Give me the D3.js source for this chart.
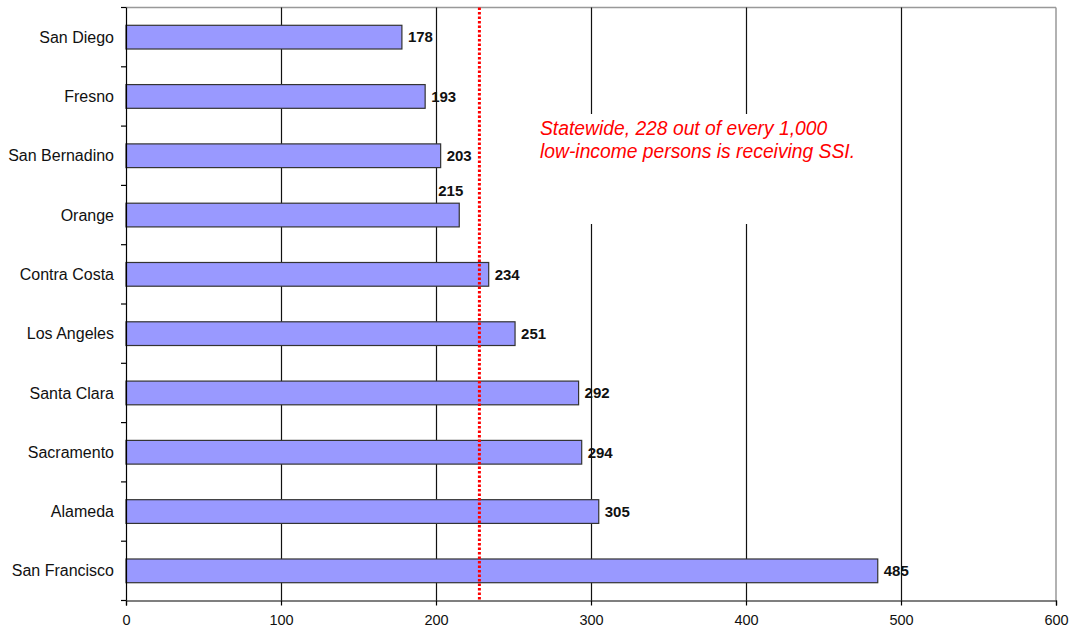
<!DOCTYPE html>
<html><head><meta charset="utf-8">
<script src="https://cdn.jsdelivr.net/npm/d3@7"></script>
<style>
html,body{margin:0;padding:0;background:#fff;}
svg{display:block;}
text{font-family:"Liberation Sans",Arial,sans-serif;}
</style></head>
<body>
<svg id="chart" width="1075" height="632"></svg>
<script>
const categories = ["San Diego","Fresno","San Bernadino","Orange","Contra Costa","Los Angeles","Santa Clara","Sacramento","Alameda","San Francisco"];
const values = [178,193,203,215,234,251,292,294,305,485];
const xTicks = [0,100,200,300,400,500,600];
const statewide = 228;
const noteLines = ["Statewide, 228 out of every 1,000","low-income persons is receiving SSI."];

const svg = d3.select("#chart");
const L = 126, R = 1056, T = 7.5, B = 600.5;

const x = d3.scaleLinear().domain([0,600]).range([L,R]);
const y = d3.scaleBand().domain(categories).range([T,B]).paddingInner(0.6).paddingOuter(0.3);
const yb = d3.scaleBand().domain(categories).range([T,B]).padding(0);

// plot border (top & right gray)
svg.append("line").attr("x1",L).attr("x2",R).attr("y1",T).attr("y2",T).attr("stroke","#999").attr("stroke-width",1.5);
svg.append("line").attr("x1",R).attr("x2",R).attr("y1",T).attr("y2",B).attr("stroke","#999").attr("stroke-width",1.5);

// gridlines
svg.append("g").selectAll("line").data(xTicks.filter(d=>d>0&&d<600)).join("line")
  .attr("x1",d=>Math.round(x(d))+0.5).attr("x2",d=>Math.round(x(d))+0.5)
  .attr("y1",T).attr("y2",B).attr("stroke","#111").attr("stroke-width",1.2);

// annotation background box
svg.append("rect").attr("x",533).attr("y",114).attr("width",332).attr("height",110).attr("fill","#fff");

// bars
svg.append("g").selectAll("rect").data(values).join("rect")
  .attr("x",x(0)).attr("y",(d,i)=>y(categories[i]))
  .attr("width",d=>x(d)-x(0)).attr("height",y.bandwidth())
  .attr("fill","#9999ff").attr("stroke","#333").attr("stroke-width",1.2);

// value labels
svg.append("g").selectAll("text").data(values).join("text")
  .attr("x",(d,i)=> categories[i]==="Orange" ? x(d)-21 : x(d)+6)
  .attr("y",(d,i)=> categories[i]==="Orange" ? y(categories[i])-7 : y(categories[i])+y.bandwidth()/2)
  .attr("dy",(d,i)=> categories[i]==="Orange" ? 0 : "0.35em")
  .attr("font-size","15px").attr("font-weight","bold").attr("fill","#111")
  .text(d=>d);

// statewide dotted line
svg.append("line").attr("x1",x(statewide)).attr("x2",x(statewide)).attr("y1",T).attr("y2",B)
  .attr("stroke","#ff0000").attr("stroke-width",3).attr("stroke-dasharray","2.5,2");

// annotation text
svg.append("g").selectAll("text").data(noteLines).join("text")
  .attr("x",540).attr("y",(d,i)=>135+i*23)
  .attr("font-size","19.3px").attr("font-style","italic").attr("fill","#ff0000")
  .text(d=>d);

// left axis
svg.append("line").attr("x1",L+0.5).attr("x2",L+0.5).attr("y1",T).attr("y2",B).attr("stroke","#000").attr("stroke-width",1.2);
const bounds = categories.map(c=>yb(c)).concat([B]);
svg.append("g").selectAll("line").data(bounds).join("line")
  .attr("x1",L-5).attr("x2",L).attr("y1",d=>d).attr("y2",d=>d).attr("stroke","#000").attr("stroke-width",1.2);
svg.append("g").selectAll("text").data(categories).join("text")
  .attr("x",114).attr("y",d=>y(d)+y.bandwidth()/2).attr("dy","0.35em")
  .attr("text-anchor","end").attr("font-size","16px").attr("fill","#111").text(d=>d);

// bottom axis
const xAxis = d3.axisBottom(x).tickValues(xTicks).tickSize(5).tickPadding(9).tickFormat(d3.format("d"));
const gx = svg.append("g").attr("transform",`translate(0,${B})`).call(xAxis);
gx.select(".domain").attr("stroke","#000").attr("stroke-width",1.2);
gx.selectAll(".tick line").attr("stroke","#000").attr("stroke-width",1.2);
gx.selectAll(".tick text").attr("font-size","14.5px").attr("fill","#111").attr("font-family","Liberation Sans, Arial, sans-serif");
</script>
</body></html>
